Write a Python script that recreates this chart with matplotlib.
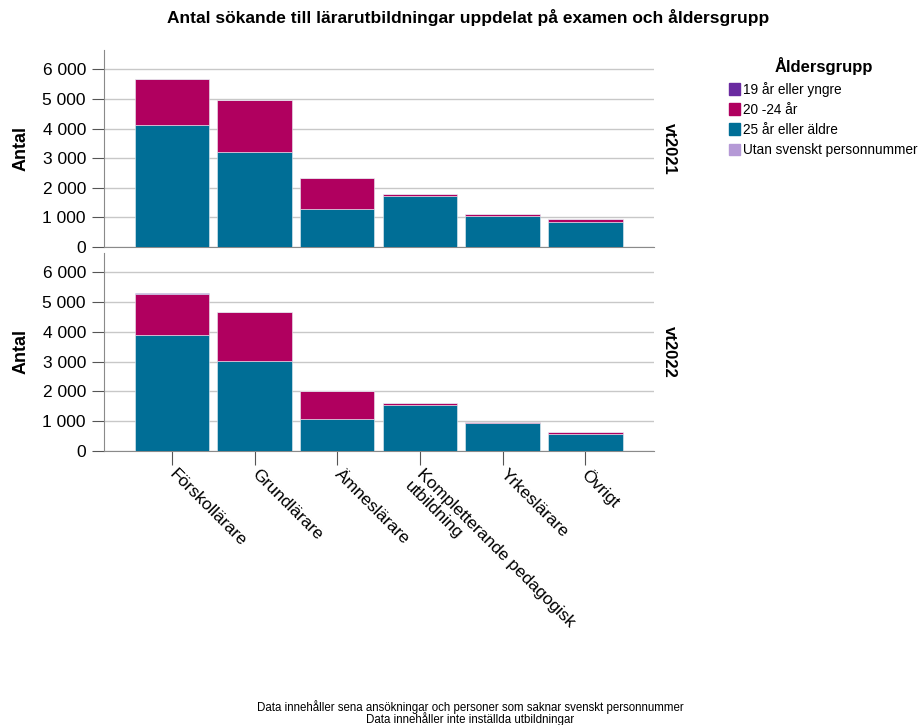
import matplotlib
matplotlib.use('Agg')
import matplotlib.pyplot as plt
import matplotlib.ticker as mticker
import matplotlib.transforms as mtransforms
import numpy as np

plt.rcParams['font.family'] = ['Liberation Sans', 'DejaVu Sans']

categories = ['Förskollärare', 'Grundlärare', 'Ämneslärare',
              'Kompletterande pedagogisk\nutbildning', 'Yrkeslärare', 'Övrigt']
terms = ['vt2021', 'vt2022']
groups = ['19 år eller yngre', '20 -24 år', '25 år eller äldre', 'Utan svenskt personnummer']
colors = ['#6a2aa0', '#b0005f', '#006e96', '#b599d6']

# values per term, per age group
age_25_plus = {
    'vt2021': [4110, 3220, 1280, 1730, 1040, 850],
    'vt2022': [3880, 3020, 1060, 1550, 940, 580],
}
age_20_24 = {
    'vt2021': [1570, 1735, 1030, 60, 60, 95],
    'vt2022': [1405, 1645, 955, 45, 30, 45],
}
age_19 = {
    'vt2021': [4, 4, 3, 2, 2, 2],
    'vt2022': [4, 4, 3, 2, 2, 2],
}
no_pnr = {
    'vt2021': [3, 3, 3, 3, 3, 3],
    'vt2022': [3, 3, 3, 3, 3, 3],
}

fig = plt.figure(figsize=(9.23, 7.25), dpi=100)
W, H = 923, 725
ax_left, ax_right = 104 / W, 654 / W
panels = [(50, 247), (253, 451)]

x = np.arange(len(categories))
fmt = mticker.FuncFormatter(lambda v, p: f'{int(v):,}'.replace(',', ' '))

for i, term in enumerate(terms):
    top, bot = panels[i]
    ax = fig.add_axes([ax_left, 1 - bot / H, ax_right - ax_left, (bot - top) / H])
    # stacking order from the bottom: utan, 25+, 20-24, 19-
    stack = [(no_pnr[term], colors[3]), (age_25_plus[term], colors[2]),
             (age_20_24[term], colors[1]), (age_19[term], colors[0])]
    bottom = np.zeros(len(categories))
    for vals, c in stack:
        ax.bar(x, vals, bottom=bottom, width=0.9, color=c, edgecolor='#e8eef4', linewidth=0.4, zorder=3)
        bottom += np.array(vals)
    ax.set_xlim(-0.82, 5.83)
    ax.set_ylim(0, 6650)
    ax.set_yticks(range(0, 7000, 1000))
    ax.yaxis.set_major_formatter(fmt)
    ax.grid(axis='y', color='#c8c8c8', linewidth=1, zorder=0)
    for s in ['top', 'right']:
        ax.spines[s].set_visible(False)
    for s in ['left', 'bottom']:
        ax.spines[s].set_color('#8a8a8a')
    ax.tick_params(axis='y', labelsize=12.5, length=9, color='#555555', pad=4)
    ax.set_ylabel('Antal', fontsize=13, fontweight='bold')
    ax.yaxis.set_label_coords(-0.135, 0.5)
    ax.text(1.015, 0.5, term, transform=ax.transAxes, rotation=-90, fontsize=12,
            fontweight='bold', ha='left', va='center')
    if i == 0:
        ax.set_xticks([])
    else:
        ax.set_xticks(x)
        ax.set_xticklabels(categories, rotation=-45, ha='left', va='top',
                           rotation_mode='anchor', fontsize=12.5)
        ax.tick_params(axis='x', length=10, color='#555555', pad=1)
        shift = mtransforms.ScaledTranslation(5 / 100, 0, fig.dpi_scale_trans)
        for lab in ax.get_xticklabels():
            lab.set_transform(lab.get_transform() + shift)

fig.text(468 / W, 1 - 18 / H, 'Antal sökande till lärarutbildningar uppdelat på examen och åldersgrupp',
         ha='center', va='center', fontsize=12.5, fontweight='bold')

# legend
handles = [plt.Rectangle((0, 0), 1, 1, color=c) for c in colors]
leg = fig.legend(handles, groups, loc='upper left', bbox_to_anchor=(724 / W, 1 - 52 / H),
                 frameon=False, title='Åldersgrupp', fontsize=9.8, handlelength=0.8,
                 handleheight=0.9, handletextpad=0.2, labelspacing=0.45, borderaxespad=0)
leg.get_title().set_fontsize(12)
leg.get_title().set_fontweight('bold')

fig.text(470 / W, 1 - 713 / H,
         'Data innehåller sena ansökningar och personer som saknar svenskt personnummer\nData innehåller inte inställda utbildningar',
         ha='center', va='center', fontsize=8.3, linespacing=0.8)

plt.savefig('out.png', dpi=100)
